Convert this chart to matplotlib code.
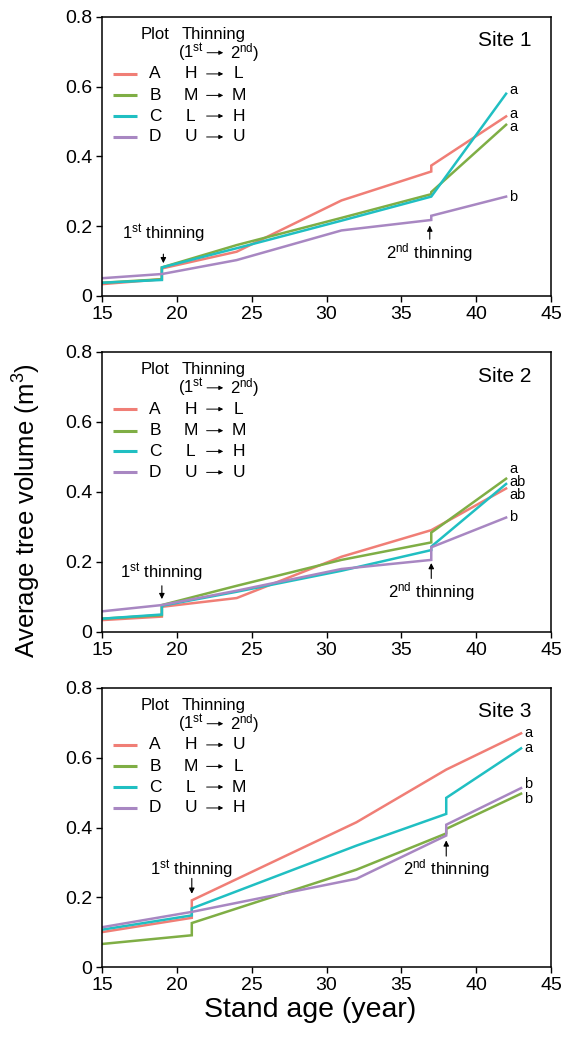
import matplotlib
matplotlib.use("Agg")
from matplotlib import pyplot as plt

plt.rcParams["font.family"] = ["Liberation Sans", "DejaVu Sans"]
plt.rcParams["mathtext.fontset"] = "custom"
plt.rcParams["mathtext.rm"] = "Liberation Sans"
plt.rcParams["mathtext.it"] = "Liberation Sans"

# Données
ages_12 = [15, 19, 19, 24, 31, 37, 37, 42]
ages_3 = [15, 21, 21, 32, 38, 38, 43]

site1 = {
    "A": [0.034, 0.048, 0.079, 0.127, 0.274, 0.357, 0.374, 0.515],
    "B": [0.038, 0.048, 0.082, 0.146, 0.224, 0.292, 0.298, 0.491],
    "C": [0.038, 0.046, 0.082, 0.137, 0.216, 0.285, 0.285, 0.580],
    "D": [0.051, 0.063, 0.063, 0.103, 0.188, 0.218, 0.230, 0.285],
}
site2 = {
    "A": [0.034, 0.044, 0.072, 0.097, 0.215, 0.291, 0.291, 0.410],
    "B": [0.038, 0.048, 0.077, 0.132, 0.206, 0.256, 0.284, 0.438],
    "C": [0.038, 0.050, 0.075, 0.115, 0.175, 0.234, 0.244, 0.423],
    "D": [0.059, 0.077, 0.077, 0.118, 0.180, 0.206, 0.242, 0.327],
}
site3 = {
    "A": [0.100, 0.141, 0.191, 0.415, 0.566, 0.566, 0.670],
    "B": [0.066, 0.091, 0.126, 0.279, 0.383, 0.396, 0.497],
    "C": [0.107, 0.148, 0.168, 0.348, 0.439, 0.485, 0.627],
    "D": [0.114, 0.158, 0.158, 0.253, 0.377, 0.408, 0.513],
}

treat_12 = [("H", "L"), ("M", "M"), ("L", "H"), ("U", "U")]
treat_3 = [("H", "U"), ("M", "L"), ("L", "M"), ("U", "H")]

# lettres de significativité (texte, y)
letters1 = [("a", 0.592), ("a", 0.522), ("a", 0.486), ("b", 0.285)]
letters2 = [("a", 0.467), ("ab", 0.430), ("ab", 0.392), ("b", 0.329)]
letters3 = [("a", 0.672), ("a", 0.627), ("b", 0.526), ("b", 0.483)]

# (x, y texte, y début flèche, y fin flèche)
thin1_1 = (19.1, 0.178, 0.120, 0.094)
thin2_1 = (36.9, 0.124, 0.163, 0.202)
thin1_2 = (19.0, 0.168, 0.132, 0.094)
thin2_2 = (37.0, 0.115, 0.153, 0.197)
thin1_3 = (21.0, 0.279, 0.254, 0.210)
thin2_3 = (38.0, 0.282, 0.318, 0.363)

COLORS = {"A": "#F07E76", "B": "#7FAE45", "C": "#20BFC2", "D": "#A887C2"}
PLOTS = ["A", "B", "C", "D"]

W, H = 563, 1037
fig = plt.figure(figsize=(W / 100, H / 100), dpi=100)


def small_arrow(ax, x0, x1, y0, y1, tr, scale=8, lw=0.8):
    ax.annotate("", xy=(x1, y1), xytext=(x0, y0), xycoords=tr, textcoords=tr,
                arrowprops=dict(arrowstyle="-|>", color="black", lw=lw,
                                mutation_scale=scale, shrinkA=0, shrinkB=0))


def make_panel(top, bottom, ages, data, treats, letters, letter_x, site,
               thin1, thin2):
    ax = fig.add_axes([102 / W, 1 - bottom / H, 449 / W, (bottom - top) / H])
    for p in PLOTS:
        ax.plot(ages, data[p], color=COLORS[p], lw=1.8, solid_joinstyle="miter")
    ax.set_xlim(15, 45)
    ax.set_ylim(0, 0.8)
    ax.set_xticks([15, 20, 25, 30, 35, 40, 45])
    ax.set_yticks([0, 0.2, 0.4, 0.6, 0.8])
    ax.set_yticklabels(["0", "0.2", "0.4", "0.6", "0.8"])
    ax.tick_params(direction="out", length=4, width=1, labelsize=14, pad=3)
    for s in ax.spines.values():
        s.set_linewidth(1.1)

    # légende faite à la main
    tr = ax.transAxes
    ax.text(0.085, 0.939, "Plot", transform=tr, fontsize=12, va="center")
    ax.text(0.178, 0.939, "Thinning", transform=tr, fontsize=12, va="center")
    ax.text(0.169, 0.872, "(1$^{\\rm st}$", transform=tr, fontsize=12,
            va="center")
    small_arrow(ax, 0.234, 0.270, 0.872, 0.872, tr, scale=6, lw=0.7)
    ax.text(0.285, 0.872, "2$^{\\rm nd}$)", transform=tr, fontsize=12,
            va="center")
    rows = [0.796, 0.719, 0.645, 0.570]
    for p, (t1, t2), yy in zip(PLOTS, treats, rows):
        ax.plot([0.024, 0.077], [yy, yy], transform=tr, color=COLORS[p],
                lw=2.2, solid_capstyle="butt")
        ax.text(0.118, yy, p, transform=tr, fontsize=12.5, va="center", ha="center")
        ax.text(0.197, yy, t1, transform=tr, fontsize=12.5, va="center", ha="center")
        small_arrow(ax, 0.233, 0.270, yy, yy, tr, scale=6, lw=0.7)
        ax.text(0.304, yy, t2, transform=tr, fontsize=12.5, va="center", ha="center")

    ax.text(0.957, 0.914, site, transform=tr, fontsize=15, va="center", ha="right")

    for txt, yy in letters:
        ax.text(letter_x, yy, txt, fontsize=10.5, va="center", ha="left")

    x, yt, y0, y1 = thin1
    ax.text(x, yt, "1$^{\\rm st}$ thinning", fontsize=12, ha="center", va="center")
    small_arrow(ax, x, x, y0, y1, ax.transData)
    x, yt, y0, y1 = thin2
    ax.text(x, yt, "2$^{\\rm nd}$ thinning", fontsize=12, ha="center", va="center")
    small_arrow(ax, x, x, y0, y1, ax.transData)
    return ax


make_panel(17, 296, ages_12, site1, treat_12, letters1, 42.2, "Site 1",
           thin1_1, thin2_1)
make_panel(352, 632, ages_12, site2, treat_12, letters2, 42.2, "Site 2",
           thin1_2, thin2_2)
make_panel(688, 967, ages_3, site3, treat_3, letters3, 43.2, "Site 3",
           thin1_3, thin2_3)

fig.text(27 / W, 1 - 511 / H, "Average tree volume (m$^{3}$)", rotation=90,
         fontsize=18.5, ha="center", va="center")
fig.text(310 / W, 1 - 1010 / H, "Stand age (year)", fontsize=20.5,
         ha="center", va="center")

fig.savefig("out.png", dpi=100)
